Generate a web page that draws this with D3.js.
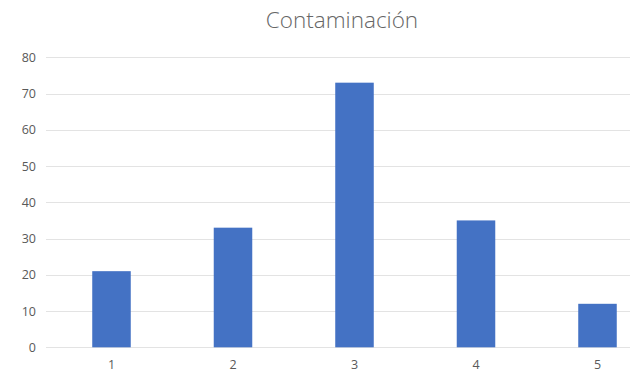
<!DOCTYPE html>
<html><head><meta charset="utf-8">
<script src="https://cdn.jsdelivr.net/npm/d3@7"></script>
<style>body{margin:0;background:#fff}svg{display:block}</style>
</head><body>
<script>
const categories = ["1","2","3","4","5"];
const values = [21, 33, 73, 35, 12];
const yTicks = [0,10,20,30,40,50,60,70,80];
const title = "Contaminación";

const W = 630, H = 374;
const svg = d3.select("body").append("svg").attr("width", W).attr("height", H);
const font = "'Open Sans', 'Noto Sans', sans-serif";

const y = d3.scaleLinear().domain([0, 80]).range([347.3, 57.3]);
const x = d3.scaleBand().domain(categories).range([50.75, 658.25]).paddingInner(0.683).paddingOuter(0.3415);

// gridlines
svg.append("g").selectAll("line").data(yTicks).join("line")
  .attr("x1", 46).attr("x2", W)
  .attr("y1", d => Math.round(y(d)) + 0.5).attr("y2", d => Math.round(y(d)) + 0.5)
  .attr("stroke", "#e3e3e3").attr("stroke-width", 1);

// y axis labels
const yAxis = d3.axisLeft(y).tickValues(yTicks).tickSize(0).tickPadding(0);
const ga = svg.append("g").attr("transform", "translate(36,0)").call(yAxis);
ga.select(".domain").remove();
ga.selectAll("text").attr("font-family", font).attr("font-size", 12.5).attr("fill", "#595959");

// bars
svg.append("g").selectAll("rect").data(values).join("rect")
  .attr("x", (d, i) => x(categories[i]))
  .attr("width", x.bandwidth())
  .attr("y", d => y(d))
  .attr("height", d => y(0) - y(d))
  .attr("fill", "#4472C4");

// x labels
const xAxis = d3.axisBottom(x).tickSize(0).tickPadding(0);
const gx = svg.append("g").attr("transform", "translate(0,360)").call(xAxis);
gx.select(".domain").remove();
gx.selectAll("text").attr("font-family", font).attr("font-size", 12.5).attr("fill", "#595959");

// title
svg.append("text").attr("x", 342).attr("y", 28).attr("text-anchor", "middle")
  .attr("font-family", font).attr("font-size", 22.5).attr("font-weight", 300)
  .attr("fill", "#666666").text(title);
</script>
</body></html>
